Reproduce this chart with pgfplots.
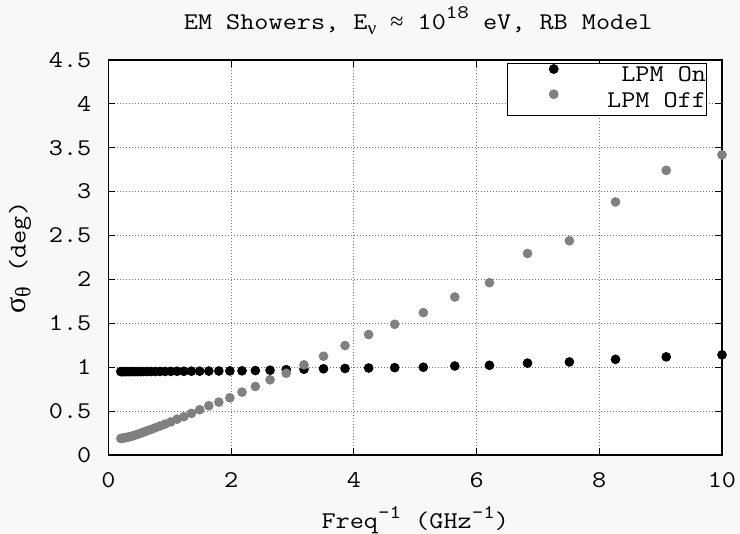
\documentclass[border=0pt]{standalone}
\usepackage{pgfplots}
\pgfplotsset{compat=1.18}
\usepackage{fontspec}
% typewriter face widened to a 0.6em advance
\setmainfont{Latin Modern Mono}[FakeStretch=1.143]
\newfontfamily\grk{Liberation Serif}

\definecolor{pagebg}{RGB}{248,248,248}
\definecolor{offgray}{RGB}{128,128,128}

% gnuplot-style raised and lowered indices
\newcommand{\sps}[1]{\raisebox{0.45em}{\fontsize{9.6}{9.6}\selectfont #1}}
\newcommand{\sbs}[1]{\raisebox{-0.2em}{\fontsize{9.6}{9.6}\selectfont #1}}

% x = 1/f (GHz^-1), sigma_theta (deg)
\pgfplotstableread{
x       y
10.0000 1.141
9.0909  1.118
8.2645  1.090
7.5131  1.060
6.8301  1.047
6.2092  1.022
5.6447  1.014
5.1316  1.000
4.6651  0.995
4.2410  0.991
3.8554  0.986
3.5049  0.982
3.1863  0.977
2.8966  0.972
2.6333  0.966
2.3939  0.962
2.1763  0.959
1.9784  0.958
1.7986  0.957
1.6351  0.956
1.4864  0.955
1.3513  0.955
1.2285  0.954
1.1168  0.954
1.0153  0.953
0.9230  0.952
0.8391  0.952
0.7628  0.951
0.6934  0.951
0.6304  0.951
0.5731  0.950
0.5210  0.950
0.4736  0.950
0.4306  0.950
0.3914  0.950
0.3558  0.950
0.3235  0.950
0.2941  0.950
0.2673  0.950
0.2430  0.950
0.2209  0.950
0.2009  0.950
}\lpmon

\pgfplotstableread{
x       y
10.0000 3.420
9.0909  3.243
8.2645  2.883
7.5131  2.440
6.8301  2.296
6.2092  1.963
5.6447  1.800
5.1316  1.622
4.6651  1.489
4.2410  1.372
3.8554  1.247
3.5049  1.125
3.1863  1.027
2.8966  0.932
2.6333  0.857
2.3939  0.781
2.1763  0.716
1.9784  0.652
1.7986  0.602
1.6351  0.561
1.4864  0.516
1.3513  0.474
1.2285  0.436
1.1168  0.408
1.0153  0.377
0.9230  0.352
0.8391  0.330
0.7628  0.310
0.6934  0.291
0.6304  0.276
0.5731  0.261
0.5210  0.247
0.4736  0.236
0.4306  0.226
0.3914  0.217
0.3558  0.210
0.3235  0.205
0.2941  0.200
0.2673  0.197
0.2430  0.193
0.2209  0.190
0.2009  0.188
}\lpmoff

\begin{document}
\begin{tikzpicture}
\fill[pagebg] (-54.25pt,-39.5pt) rectangle (315.75pt,227.5pt);
\begin{axis}[
  at={(0pt,0pt)}, anchor=south west,
  scale only axis, width=306.75pt, height=197.5pt,
  xmin=0, xmax=10, ymin=0, ymax=4.5,
  xtick={0,2,4,6,8,10},
  ytick={0,0.5,1,1.5,2,2.5,3,3.5,4,4.5},
  clip=false,
  axis background/.style={fill=white},
  axis line style={line width=0.8pt},
  tick align=inside,
  major tick length=3.5pt,
  every tick/.style={black, line width=0.5pt},
  grid=major,
  major grid style={black!55, line width=0.5pt, dash pattern=on 0.5pt off 1pt},
  /pgf/number format/assume math mode=true,
  ticklabel style={font=\fontsize{12}{12}\selectfont},
  xticklabel style={anchor=base, yshift=-16.5pt},
  yticklabel style={anchor=east, inner sep=0pt, xshift=-8.4pt},
  title={EM Showers, E\sbs{\grk ν} {\grk ≈} 10\sps{18} eV, RB Model},
  title style={at={(axis description cs:0.5,1)}, anchor=base, yshift=9.25pt, xshift=1.5pt, font=\fontsize{12}{12}\selectfont},
  xlabel={Freq\sps{-1} (GHz\sps{-1})},
  xlabel style={at={(axis description cs:0.5,0)}, anchor=base, yshift=-37pt, font=\fontsize{12}{12}\selectfont},
  ylabel={{\grk\fontsize{15}{15}\selectfont σ}\raisebox{-0.2em}{\grk\fontsize{11}{11}\selectfont θ} (deg)},
  ylabel style={at={(axis description cs:-0.14425,0.5)}, anchor=center, font=\fontsize{12}{12}\selectfont},
  legend cell align=right,
  legend style={at={(rel axis cs:0.649,0.9916)}, anchor=north west,
    draw=black, line width=0.5pt, fill=white,
    inner xsep=0.4pt, inner ysep=0.4pt, row sep=0pt,
    font=\fontsize{12}{12}\selectfont,
    nodes={inner sep=0pt, text height=8.5pt, text depth=4pt}},
  legend image code/.code={
    \path[draw=none, fill=none] (0pt,0pt) -- (49.6pt,0pt);
    \draw[#1] plot coordinates {(22.9pt,4.15pt)};
  },
]
\addplot[only marks, mark=*, mark size=2.2pt, color=black] table {\lpmon};
\addlegendentry{LPM On}
\addplot[only marks, mark=*, mark size=2.2pt, color=offgray] table {\lpmoff};
\addlegendentry{LPM Off}
\end{axis}
\pgfresetboundingbox
\useasboundingbox (-54.25pt,-39.5pt) rectangle (315.75pt,227.5pt);
\end{tikzpicture}
\end{document}
